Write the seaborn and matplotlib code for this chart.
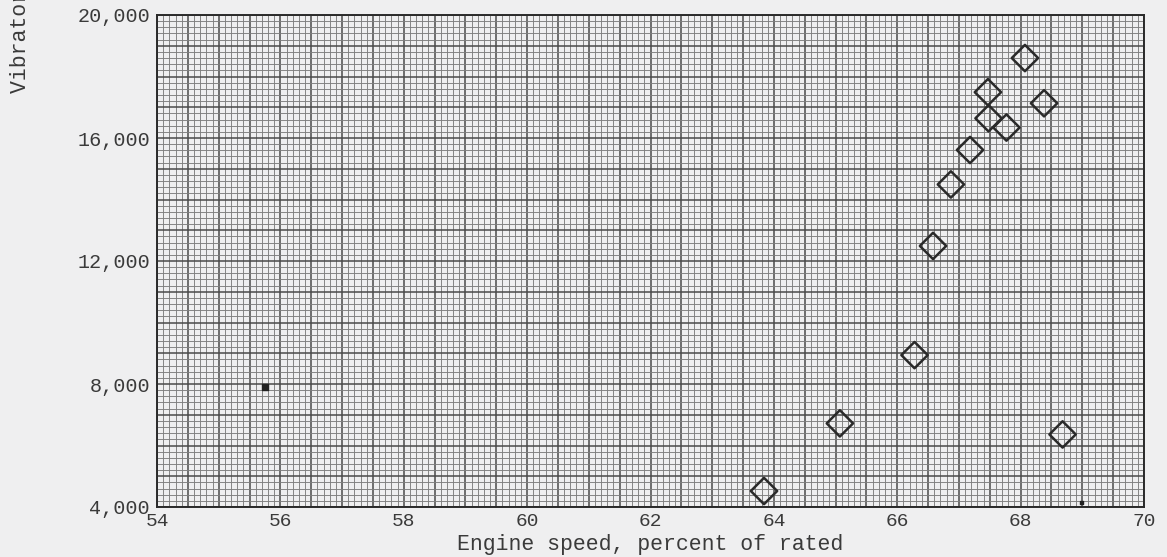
import numpy as np
import pandas as pd
import seaborn as sns
import matplotlib.pyplot as plt
from matplotlib.ticker import MultipleLocator, FuncFormatter

# Engine speed vs vibratory stress
speed = [63.84, 65.07, 66.28, 66.58, 66.87, 67.18, 67.47, 67.48, 67.77, 68.07, 68.38, 68.68]
stress = [4520, 6720, 8940, 12490, 14490, 15610, 17490, 16640, 16340, 18600, 17130, 6360]

# stray ink marks on the paper
mark_x = [55.75, 68.99]
mark_y = [7900, 4160]
mark_size = [14, 5]

x_ticks = [54, 56, 58, 60, 62, 64, 66, 68, 70]
y_ticks = [4000, 8000, 12000, 16000, 20000]

df = pd.DataFrame({'speed': speed, 'stress': stress})

sns.set_style('white')
plt.rcParams['font.family'] = ['Liberation Mono', 'DejaVu Sans Mono']

paper = '#efeff0'
ink = '#3a3a3a'

fig = plt.figure(figsize=(11.67, 5.57), dpi=100, facecolor=paper)
ax = fig.add_axes([157 / 1167, 1 - 507 / 557, (1144 - 157) / 1167, (507 - 15) / 557])
ax.set_facecolor(paper)

ax.set_xlim(54, 70)
ax.set_ylim(4000, 20000)

# graph paper: heavy lines every 0.5 % / 1000, fine lines every 0.1 % / 200
ax.xaxis.set_major_locator(MultipleLocator(0.5))
ax.xaxis.set_minor_locator(MultipleLocator(0.1))
ax.yaxis.set_major_locator(MultipleLocator(1000))
ax.yaxis.set_minor_locator(MultipleLocator(200))
ax.xaxis.set_major_formatter(FuncFormatter(lambda v, p: f'{v:.0f}' if round(v, 3) in x_ticks else ''))
ax.yaxis.set_major_formatter(FuncFormatter(lambda v, p: f'{v:,.0f}' if round(v) in y_ticks else ''))
ax.grid(which='major', color='#4a4a4a', lw=1.1)
ax.grid(which='minor', color='#7e7e7e', lw=0.65)
ax.set_axisbelow(True)
ax.tick_params(which='both', length=0)
ax.tick_params(axis='x', pad=4, labelsize=14, labelcolor=ink)
ax.tick_params(axis='y', pad=5, labelsize=14.5, labelcolor=ink)
for s in ax.spines.values():
    s.set_color('#2a2a2a')
    s.set_linewidth(1.4)

sns.scatterplot(data=df, x='speed', y='stress', marker='D', s=180,
                facecolor='none', edgecolor='#2a2a2a', linewidth=1.8, ax=ax, zorder=3)
ax.scatter(mark_x, mark_y, marker='s', s=mark_size, color='#222222', zorder=3)

ax.set_xlabel('Engine speed, percent of rated', fontsize=15.5, color=ink, labelpad=3)
ax.set_ylabel('')
# y label runs off the top of the scan; only its start is visible
fig.text(21 / 1167, 1 - 93 / 557, 'Vibratory stress, psi', rotation=90,
         ha='center', va='bottom', fontsize=15.5, color=ink)

fig.savefig('out.png', dpi=100, facecolor=paper)
